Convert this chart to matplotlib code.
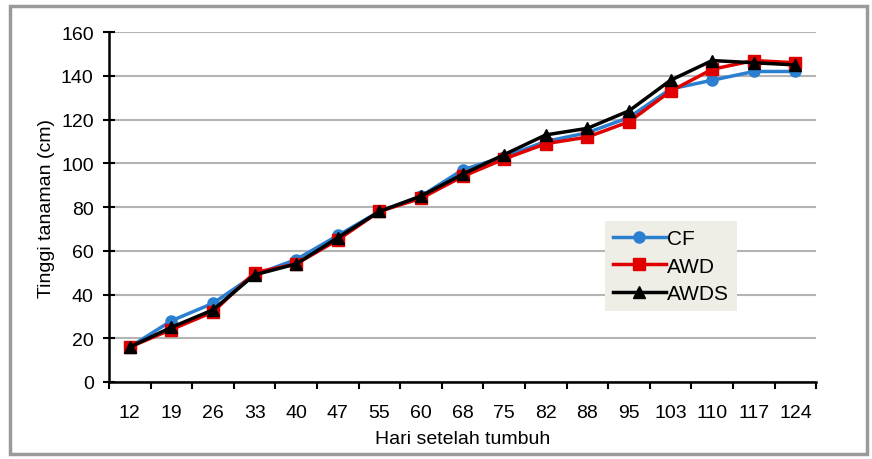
import matplotlib
matplotlib.use("Agg")
import matplotlib.pyplot as plt
from matplotlib.patches import Rectangle
import numpy as np

plt.rcParams['font.family'] = ['Liberation Sans', 'DejaVu Sans']

days = ["12", "19", "26", "33", "40", "47", "55", "60", "68", "75", "82", "88", "95", "103", "110", "117", "124"]
cf =   [16, 28, 36, 49, 56, 67, 78, 85, 97, 103, 110, 114, 121, 134, 138, 142, 142]
awd =  [16, 24, 32, 50, 54, 65, 78, 84, 94, 102, 109, 112, 119, 133, 143, 147, 146]
awds = [16, 25, 33, 49, 54, 66, 78, 85, 95, 104, 113, 116, 124, 138, 147, 146, 145]

fig = plt.figure(figsize=(8.72, 4.6), dpi=100)
fig.patches.append(Rectangle((0.0115, 0.01), 0.983, 0.974, transform=fig.transFigure,
                             fill=False, edgecolor='#9a9a9a', linewidth=2.5))
ax = fig.add_axes([0.125, 0.1674, 0.811, 0.7606])

x = np.arange(len(days))
ax.plot(x, cf, color='#2a7fd0', marker='o', markersize=8, linewidth=2.5, label='CF', zorder=3)
ax.plot(x, awd, color='#e00000', marker='s', markersize=8, linewidth=2.5, label='AWD', zorder=4)
ax.plot(x, awds, color='#000000', marker='^', markersize=8, linewidth=2.5, label='AWDS', zorder=5)

ax.set_xlim(-0.5, len(days) - 0.5)
ax.set_ylim(0, 160)
ax.set_yticks(range(0, 161, 20))
ax.set_xticks(x)
ax.set_xticklabels(days)
ax.set_xticks(np.arange(-0.5, len(days), 1), minor=True)
ax.tick_params(axis='x', which='major', length=0, labelsize=14, pad=16)
ax.tick_params(axis='x', which='minor', length=5, width=1.5, direction='out')
ax.tick_params(axis='y', length=8, width=1.5, direction='inout', labelsize=14, pad=7)

ax.grid(axis='y', color='#b4b4b4', linewidth=1.5)
ax.set_axisbelow(True)
for s in ['top', 'right']:
    ax.spines[s].set_visible(False)
for s in ['left', 'bottom']:
    ax.spines[s].set_linewidth(1.8)
    ax.spines[s].set_color('#000000')

ax.set_xlabel('Hari setelah tumbuh', fontsize=14, labelpad=6)
ax.set_ylabel('Tinggi tanaman (cm)', fontsize=14, labelpad=4)

leg = ax.legend(loc='upper left', bbox_to_anchor=(0.7015, 0.46), borderaxespad=0,
                fontsize=15, frameon=True, fancybox=False, handlelength=2.5,
                handletextpad=0.05, borderpad=0.4, labelspacing=0.4)
leg.get_frame().set_facecolor('#eeede6')
leg.get_frame().set_edgecolor('none')
leg.get_frame().set_alpha(1)

fig.savefig('out.png', dpi=100)
